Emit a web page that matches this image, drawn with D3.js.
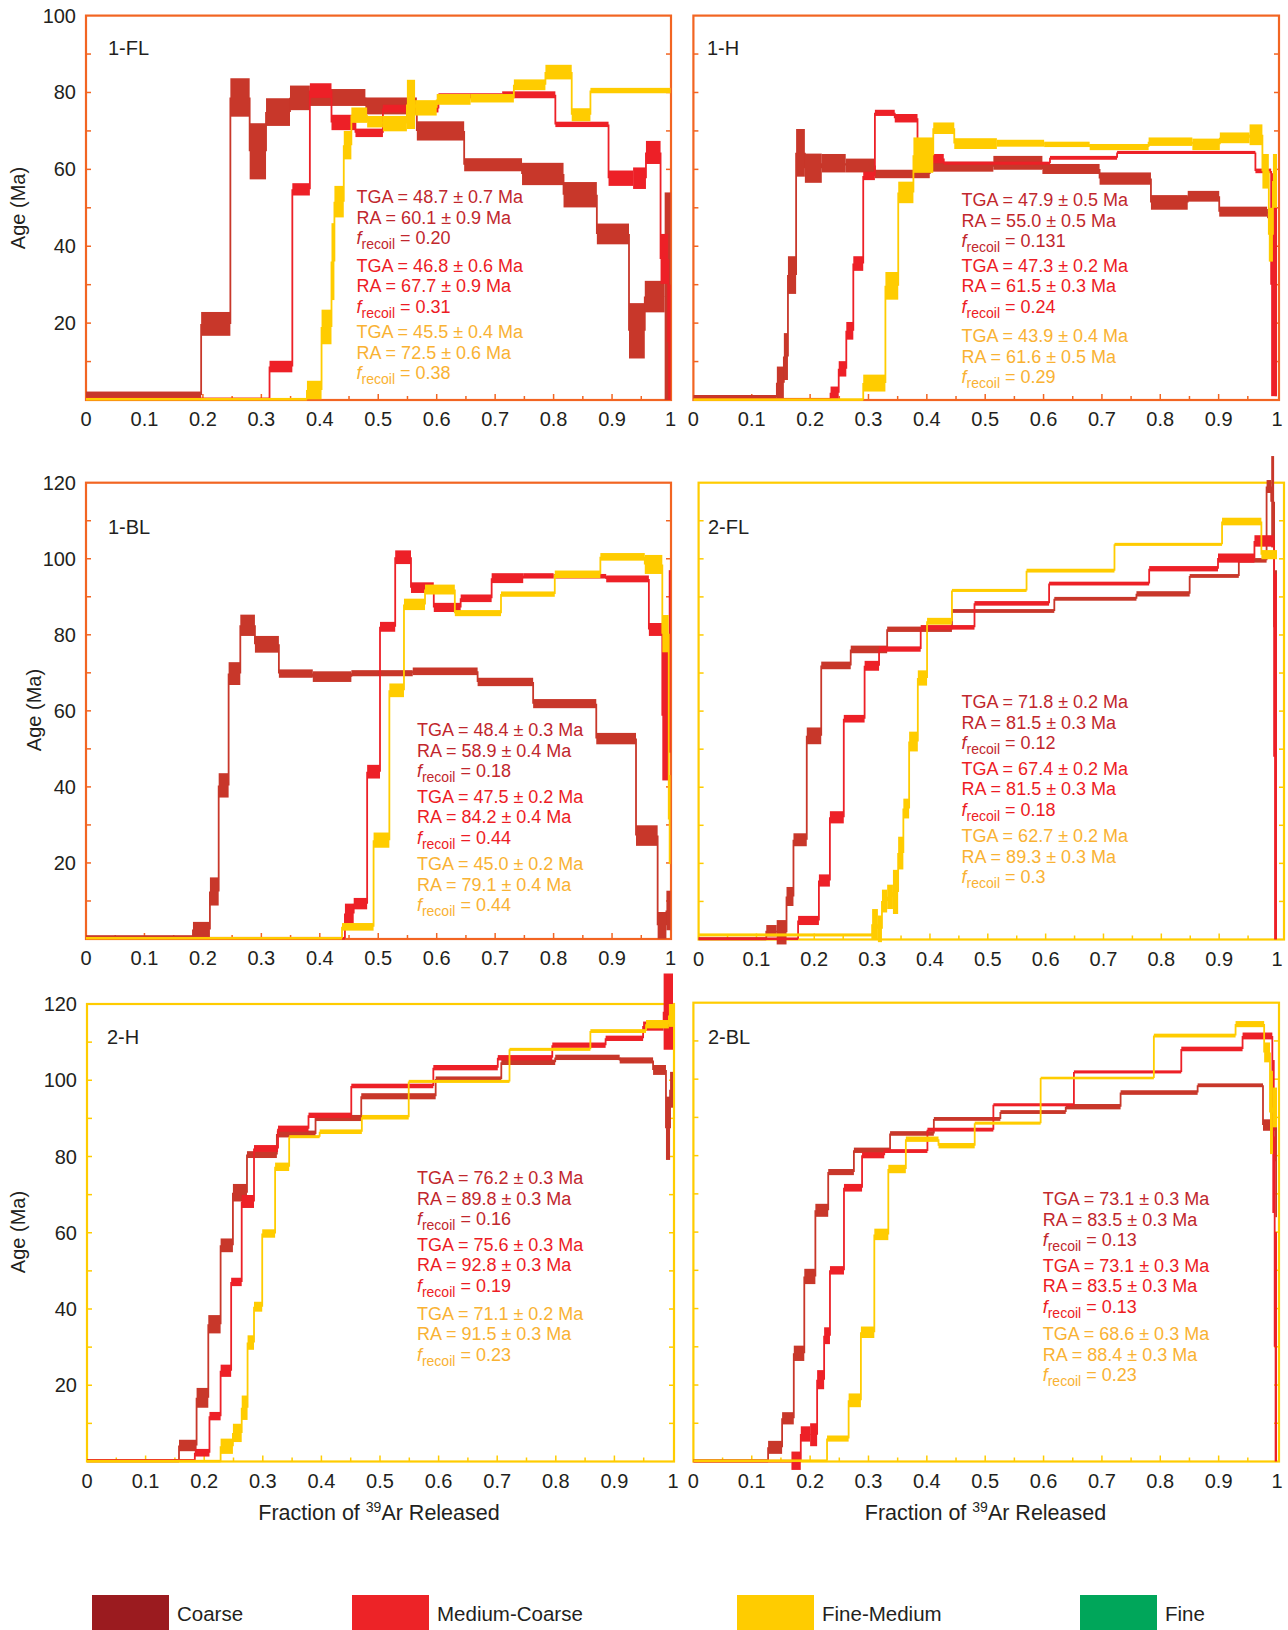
<!DOCTYPE html>
<html>
<head>
<meta charset="utf-8">
<script src="https://cdn.jsdelivr.net/npm/d3@7"></script>
<style>
	body { margin: 0; background: #fff; }
	svg text { font-family: "Liberation Sans", Arial, sans-serif; fill: #231F20; }
</style>
</head>
<body>
<svg id="chart" width="1288" height="1630"></svg>
<script>
	// grain size classes (legend)
	var grainSizes = ['Coarse', 'Medium-Coarse', 'Fine-Medium', 'Fine'];

	// steps: [cumulative fraction at end of step, age (Ma), half-height of box (Ma)]
	// 1-FL
	var fl1Coarse = [[0.197,1.3,0.9],[0.247,19.8,3.1],[0.280,78.7,5.0],[0.308,64.7,7.3],[0.349,74.9,3.6],[0.383,78.6,3.2],[0.478,78.7,2.2],[0.566,76.5,2.2],[0.647,70.0,2.5],[0.746,61.2,1.7],[0.817,58.8,2.9],[0.874,53.4,3.3],[0.929,43.2,2.7],[0.956,18.0,7.2],[0.990,26.9,4.1],[1.0,27.0,27.0]];
	var fl1Medium = [[0.314,0.3,0.3],[0.353,8.7,1.5],[0.383,54.8,1.6],[0.420,80.5,1.9],[0.461,72.2,2.0],[0.508,69.5,1.1],[0.603,75.8,1.0],[0.712,79.1,0.7],[0.803,79.4,0.9],[0.894,71.7,0.7],[0.936,57.7,2.0],[0.958,57.7,2.8],[0.983,64.4,3.0],[0.996,36.7,6.5],[1.0,15.0,15.0]];
	var fl1Fine = [[0.378,0.2,0.2],[0.403,2.6,2.4],[0.420,19.0,4.5],[0.425,36.0,10.0],[0.441,51.6,4.1],[0.454,66.3,3.7],[0.481,74.1,2.0],[0.508,72.4,1.5],[0.549,71.9,2.0],[0.563,76.9,6.4],[0.600,76.0,2.0],[0.658,78.2,1.4],[0.732,78.5,1.1],[0.786,82.0,1.4],[0.831,85.3,1.9],[0.863,74.2,1.7],[1.0,80.5,0.7]];
	// 1-H
	var h1Coarse = [[0.143,0.8,0.5],[0.155,4.5,4.2],[0.162,11.3,6.1],[0.176,32.5,4.9],[0.191,64.3,6.2],[0.220,60.3,3.8],[0.261,61.6,2.4],[0.311,61.0,1.8],[0.405,58.8,1.1],[0.514,60.7,1.3],[0.598,61.7,1.8],[0.696,60.1,1.3],[0.784,57.6,1.6],[0.847,51.4,1.9],[0.901,53.0,1.4],[0.983,49.0,1.3],[0.996,48.5,1.2],[1.0,22.0,21.0]];
	var h1Medium = [[0.235,0.2,0.2],[0.249,1.9,1.6],[0.262,8.1,2.0],[0.274,18.0,2.3],[0.291,35.5,1.9],[0.311,58.3,1.1],[0.345,74.7,0.8],[0.384,73.3,1.1],[0.429,62.8,1.2],[0.611,61.6,0.4],[0.726,63.0,0.5],[0.963,64.4,0.4],[0.990,59.6,0.6],[1.0,30.0,29.0]];
	var h1Fine = [[0.291,0.1,0.15],[0.329,4.4,2.2],[0.351,29.7,3.6],[0.377,54.0,2.8],[0.411,63.7,4.6],[0.447,70.7,1.5],[0.520,66.7,1.4],[0.601,66.8,0.9],[0.679,66.5,0.7],[0.780,65.8,0.8],[0.855,67.2,1.1],[0.902,66.5,1.5],[0.953,68.2,1.4],[0.975,69.0,2.7],[0.986,59.5,4.5],[0.993,43.0,7.0],[1.0,57.0,7.0]];
	// 1-BL
	var bl1Coarse = [[0.183,0.5,0.5],[0.212,2.5,2.0],[0.227,12.5,3.7],[0.244,40.4,3.2],[0.264,69.8,3.0],[0.289,82.5,2.8],[0.330,77.5,2.2],[0.388,69.8,1.1],[0.454,69.0,1.4],[0.559,69.9,0.8],[0.670,70.4,1.0],[0.765,67.6,1.1],[0.873,61.9,1.2],[0.941,52.7,1.5],[0.978,27.2,2.7],[0.993,3.6,3.5],[1.0,7.5,5.2]];
	var bl1Medium = [[0.443,0.2,0.2],[0.458,6.7,2.6],[0.481,9.3,1.5],[0.503,44.0,1.8],[0.529,82.1,1.3],[0.556,100.4,1.8],[0.595,92.4,1.4],[0.641,87.2,1.2],[0.694,89.6,1.0],[0.748,94.9,1.3],[0.800,95.5,0.7],[0.890,95.4,0.6],[0.963,94.7,0.9],[0.986,81.4,1.7],[0.997,58.7,17.0],[1.0,73.0,24.0]];
	var bl1Fine = [[0.438,0.2,0.2],[0.492,3.2,1.0],[0.519,26.0,2.0],[0.544,65.4,1.8],[0.580,88.0,1.5],[0.631,91.9,1.3],[0.710,85.7,0.8],[0.802,90.7,0.7],[0.880,95.9,1.0],[0.956,100.5,1.0],[0.986,98.5,2.5],[0.997,80.3,4.9],[1.0,31.4,11.7]];
	// 2-FL
	var fl2Coarse = [[0.117,0.2,0.4],[0.135,2.3,1.5],[0.152,1.9,3.2],[0.164,11.3,2.5],[0.187,26.2,1.7],[0.212,53.5,2.2],[0.263,72.0,1.0],[0.326,76.2,1.0],[0.438,81.5,0.7],[0.615,86.3,0.5],[0.757,89.5,0.5],[0.849,90.8,0.7],[0.934,95.5,0.5],[0.982,99.6,0.6],[0.990,119.0,1.7],[0.995,115.0,12.0],[1.0,82.0,15.0]];
	var fl2Medium = [[0.172,0.2,0.3],[0.208,5.0,1.2],[0.227,15.5,1.6],[0.251,32.1,1.6],[0.287,58.0,1.0],[0.312,71.9,1.3],[0.384,76.3,0.7],[0.477,82.0,0.6],[0.606,88.3,0.6],[0.779,93.5,0.5],[0.898,97.4,0.7],[0.961,100.2,1.2],[0.995,104.7,1.5],[1.0,48.0,48.0]];
	var fl2Fine = [[0.300,1.2,0.4],[0.310,4.0,4.0],[0.317,2.8,3.5],[0.326,10.1,3.0],[0.336,11.2,3.2],[0.345,12.5,5.8],[0.354,22.7,4.3],[0.364,34.4,2.6],[0.379,52.0,2.6],[0.395,68.7,2.0],[0.438,83.6,0.9],[0.567,91.7,0.4],[0.719,96.9,0.5],[0.905,103.8,0.4],[0.973,109.8,1.0],[1.0,101.1,1.2]];
	// 2-H
	var h2Coarse = [[0.157,0.2,0.4],[0.187,4.2,1.5],[0.207,16.7,2.6],[0.228,36.0,2.4],[0.249,56.7,1.8],[0.273,70.5,2.3],[0.324,80.5,0.9],[0.390,85.9,0.9],[0.468,90.1,0.8],[0.595,95.8,0.8],[0.707,100.3,0.7],[0.799,104.7,0.7],[0.909,106.0,0.7],[0.966,105.2,0.8],[0.988,102.7,1.3],[0.995,87.4,8.3],[1.0,97.5,4.7]];
	var h2Medium = [[0.184,0.3,0.3],[0.209,2.3,1.0],[0.228,11.9,1.1],[0.246,23.8,1.6],[0.264,47.1,1.1],[0.285,68.2,1.7],[0.326,82.1,0.9],[0.378,87.3,0.8],[0.451,90.8,0.7],[0.591,98.5,0.6],[0.701,103.3,0.7],[0.794,105.9,0.7],[0.885,109.2,0.7],[0.949,111.0,0.7],[0.984,114.2,1.2],[1.0,118.0,10.0]];
	var h2Fine = [[0.228,0.1,0.2],[0.249,4.0,2.0],[0.264,7.5,2.4],[0.274,14.1,3.2],[0.285,31.2,1.9],[0.299,40.6,1.3],[0.321,59.8,1.1],[0.345,77.3,1.1],[0.397,85.2,0.4],[0.469,86.5,0.6],[0.549,90.3,0.6],[0.721,99.7,0.4],[0.859,108.1,0.4],[0.954,112.9,0.5],[0.993,114.7,1.1],[1.0,117.0,3.0]];
	// 2-BL
	var bl2Coarse = [[0.128,0.2,0.4],[0.152,3.7,1.7],[0.172,11.3,1.6],[0.190,28.3,2.0],[0.209,48.4,2.0],[0.231,65.7,1.7],[0.275,75.7,0.8],[0.337,81.4,0.7],[0.412,85.8,0.6],[0.526,89.6,0.5],[0.638,91.4,0.5],[0.732,92.8,0.7],[0.864,96.5,0.6],[0.976,98.4,0.5],[0.997,88.0,1.5],[1.0,78.5,14.6]];
	var bl2Medium = [[0.168,0.1,0.2],[0.184,0.2,2.4],[0.200,7.2,2.0],[0.212,7.0,3.0],[0.224,21.4,2.5],[0.234,32.9,2.2],[0.258,50.0,1.1],[0.289,71.6,1.0],[0.327,80.1,0.8],[0.401,81.2,0.5],[0.514,86.8,0.5],[0.652,93.3,0.4],[0.836,101.9,0.4],[0.941,107.9,0.6],[0.992,111.3,0.9],[0.996,85.0,20.0],[1.0,30.0,30.0]];
	var bl2Fine = [[0.229,0.2,0.3],[0.266,6.0,0.8],[0.287,16.0,1.8],[0.310,33.8,1.5],[0.334,59.4,1.5],[0.364,76.5,1.1],[0.420,84.3,0.7],[0.482,82.6,0.7],[0.595,88.5,0.4],[0.789,100.3,0.3],[0.929,111.4,0.5],[0.978,114.4,0.8],[0.988,107.0,2.6],[0.993,91.3,10.9],[1.0,92.6,5.2]];

	// TGA, RA, f_recoil per grain size (coarse, medium-coarse, fine-medium)
	var fl1Stats = [['48.7 ± 0.7', '60.1 ± 0.9', '0.20'], ['46.8 ± 0.6', '67.7 ± 0.9', '0.31'], ['45.5 ± 0.4', '72.5 ± 0.6', '0.38']];
	var h1Stats = [['47.9 ± 0.5', '55.0 ± 0.5', '0.131'], ['47.3 ± 0.2', '61.5 ± 0.3', '0.24'], ['43.9 ± 0.4', '61.6 ± 0.5', '0.29']];
	var bl1Stats = [['48.4 ± 0.3', '58.9 ± 0.4', '0.18'], ['47.5 ± 0.2', '84.2 ± 0.4', '0.44'], ['45.0 ± 0.2', '79.1 ± 0.4', '0.44']];
	var fl2Stats = [['71.8 ± 0.2', '81.5 ± 0.3', '0.12'], ['67.4 ± 0.2', '81.5 ± 0.3', '0.18'], ['62.7 ± 0.2', '89.3 ± 0.3', '0.3']];
	var h2Stats = [['76.2 ± 0.3', '89.8 ± 0.3', '0.16'], ['75.6 ± 0.3', '92.8 ± 0.3', '0.19'], ['71.1 ± 0.2', '91.5 ± 0.3', '0.23']];
	var bl2Stats = [['73.1 ± 0.3', '83.5 ± 0.3', '0.13'], ['73.1 ± 0.3', '83.5 ± 0.3', '0.13'], ['68.6 ± 0.3', '88.4 ± 0.3', '0.23']];

	var xTickValues = [0, 0.1, 0.2, 0.3, 0.4, 0.5, 0.6, 0.7, 0.8, 0.9, 1];
	var xTickLabels = ['0', '0.1', '0.2', '0.3', '0.4', '0.5', '0.6', '0.7', '0.8', '0.9', '1'];
	var yTicks100 = [20, 40, 60, 80, 100];
	var yTicks120 = [20, 40, 60, 80, 100, 120];

	var seriesColor = ['#C8372A', '#ED2027', '#FFCC00'];
	var textColor = ['#C1272D', '#ED1C24', '#F9B233'];
	var legendColor = ['#9B1B1F', '#ED2327', '#FFCC00', '#00A65A'];
	var orange = '#F26522', yellow = '#FFCC00';

	var panels = [
		{ name: '1-FL', series: [fl1Coarse, fl1Medium, fl1Fine], stats: fl1Stats, l: 86, r: 670.5, fr: 671, t: 15.6, b: 400, max: 100, yLab: yTicks100, frame: orange, lab: [108, 55], tx: 356.6, ty: [196.5, 265.1, 331.6] },
		{ name: '1-H', series: [h1Coarse, h1Medium, h1Fine], stats: h1Stats, l: 693.4, r: 1277, fr: 1279, t: 15.6, b: 400, max: 100, yLab: null, frame: orange, lab: [707, 55], tx: 961.6, ty: [199.6, 265.1, 335.8] },
		{ name: '1-BL', series: [bl1Coarse, bl1Medium, bl1Fine], stats: bl1Stats, l: 86, r: 670.5, fr: 671, t: 482.7, b: 939, max: 120, yLab: yTicks120, frame: orange, lab: [108, 534], tx: 416.9, ty: [729.8, 796.3, 863.9] },
		{ name: '2-FL', series: [fl2Coarse, fl2Medium, fl2Fine], stats: fl2Stats, l: 698.6, r: 1277, fr: 1284, t: 482.7, b: 939.5, max: 120, yLab: null, frame: yellow, lab: [708, 534], tx: 961.6, ty: [701.7, 768.3, 835.8] },
		{ name: '2-H', series: [h2Coarse, h2Medium, h2Fine], stats: h2Stats, l: 87, r: 673, fr: 674, t: 1004, b: 1461.5, max: 120, yLab: yTicks120, frame: yellow, lab: [107, 1043.5], tx: 416.9, ty: [1177.9, 1244.4, 1313] },
		{ name: '2-BL', series: [bl2Coarse, bl2Medium, bl2Fine], stats: bl2Stats, l: 693.4, r: 1277, fr: 1279, t: 1002.7, b: 1461.5, max: 120, yLab: null, frame: yellow, lab: [708, 1043.5], tx: 1042.7, ty: [1198.7, 1265.2, 1333.8] }
	];

	var svg = d3.select('#chart');

	panels.forEach(function(p) {
		var x = d3.scaleLinear().domain([0, 1]).range([p.l, p.r]);
		var y = d3.scaleLinear().domain([0, p.max]).range([p.b, p.t]);
		var g = svg.append('g').attr('class', 'panel');

		// frame
		g.append('rect')
			.attr('x', p.l).attr('y', p.t)
			.attr('width', p.fr - p.l).attr('height', p.b - p.t)
			.attr('fill', 'none')
			.attr('stroke', p.frame)
			.attr('stroke-width', 2.2);

		// inner ticks
		var yMinor = d3.range(10, p.max, 10);
		g.selectAll('line.yl').data(yMinor).enter().append('line')
			.attr('x1', p.l).attr('x2', p.l + 5)
			.attr('y1', d => y(d)).attr('y2', d => y(d))
			.attr('stroke', p.frame).attr('stroke-width', 1.5);
		g.selectAll('line.yr').data(yMinor).enter().append('line')
			.attr('x1', p.fr).attr('x2', p.fr - 5)
			.attr('y1', d => y(d)).attr('y2', d => y(d))
			.attr('stroke', p.frame).attr('stroke-width', 1.5);
		g.selectAll('line.xt').data(d3.range(1, 20).map(i => i / 20)).enter().append('line')
			.attr('x1', d => x(d)).attr('x2', d => x(d))
			.attr('y1', p.b).attr('y2', (d, i) => p.b - (i % 2 ? 6 : 4))
			.attr('stroke', p.frame).attr('stroke-width', 1.5);

		// x tick labels
		g.selectAll('text.xl').data(xTickValues).enter().append('text')
			.attr('x', d => x(d)).attr('y', p.b + 26)
			.attr('text-anchor', 'middle')
			.attr('font-size', 20)
			.text((d, i) => xTickLabels[i]);

		// y tick labels
		if (p.yLab) {
			g.selectAll('text.yl').data(p.yLab).enter().append('text')
				.attr('x', p.l - 10).attr('y', d => y(d) + 7)
				.attr('text-anchor', 'end')
				.attr('font-size', 20)
				.text(d => d);
		}

		// age spectra: coarse, medium-coarse, fine-medium
		p.series.forEach(function(steps, k) {
			var s = g.append('g').attr('class', 'series');
			var prev = 0;
			var boxes = steps.map(function(d) {
				var o = { x0: prev, x1: d[0], age: d[1], err: d[2] };
				prev = d[0];
				return o;
			});
			// connectors between steps
			var path = d3.path();
			boxes.forEach(function(d, i) {
				if (i === 0) return;
				path.moveTo(x(d.x0), y(boxes[i - 1].age));
				path.lineTo(x(d.x0), y(d.age));
			});
			s.append('path')
				.attr('d', path.toString())
				.attr('fill', 'none')
				.attr('stroke', seriesColor[k])
				.attr('stroke-width', 1.8);
			s.selectAll('rect').data(boxes).enter().append('rect')
				.attr('x', d => x(d.x0))
				.attr('width', d => Math.max(x(d.x1) - x(d.x0), 1.5))
				.attr('y', d => Math.min(y(d.age + d.err), y(d.age) - 1.3))
				.attr('height', d => Math.max(y(d.age - d.err) - y(d.age + d.err), 2.6))
				.attr('fill', seriesColor[k]);
		});

		// panel name
		g.append('text')
			.attr('x', p.lab[0]).attr('y', p.lab[1])
			.attr('font-size', 20)
			.text(p.name);

		// TGA / RA / f_recoil annotations
		p.stats.forEach(function(st, k) {
			var y0 = p.ty[k] + 6.5;
			var c = textColor[k];
			g.append('text').attr('x', p.tx).attr('y', y0)
				.attr('font-size', 18).style('fill', c)
				.text('TGA = ' + st[0] + ' Ma');
			g.append('text').attr('x', p.tx).attr('y', y0 + 20.5)
				.attr('font-size', 18).style('fill', c)
				.text('RA = ' + st[1] + ' Ma');
			var f = g.append('text').attr('x', p.tx).attr('y', y0 + 41)
				.attr('font-size', 18).style('fill', c);
			f.append('tspan').attr('font-style', 'italic').text('f');
			f.append('tspan').attr('font-size', 14).attr('dy', 5).text('recoil');
			f.append('tspan').attr('dy', -5).text(' = ' + st[2]);
		});
	});

	// axis titles
	[[18, 208], [34, 710], [18, 1232]].forEach(function(c) {
		svg.append('text')
			.attr('transform', 'translate(' + (c[0] + 7) + ',' + c[1] + ') rotate(-90)')
			.attr('text-anchor', 'middle')
			.attr('font-size', 20)
			.text('Age (Ma)');
	});
	[379, 985.5].forEach(function(cx) {
		var t = svg.append('text')
			.attr('x', cx).attr('y', 1520)
			.attr('text-anchor', 'middle')
			.attr('font-size', 21.5);
		t.append('tspan').text('Fraction of ');
		t.append('tspan').attr('font-size', 14).attr('dy', -8).text('39');
		t.append('tspan').attr('dy', 8).text('Ar Released');
	});

	// legend
	var legendX = [92, 352, 737, 1080];
	var legend = svg.selectAll('g.legendItem')
		.data(grainSizes)
		.enter().append('g')
		.attr('class', 'legendItem')
		.attr('transform', (d, i) => 'translate(' + [legendX[i], 1595] + ')');
	legend.append('rect')
		.attr('width', 77).attr('height', 35)
		.attr('fill', (d, i) => legendColor[i]);
	legend.append('text')
		.attr('x', 85).attr('y', 25.5)
		.attr('font-size', 20.5)
		.text(d => d);
</script>
</body>
</html>
